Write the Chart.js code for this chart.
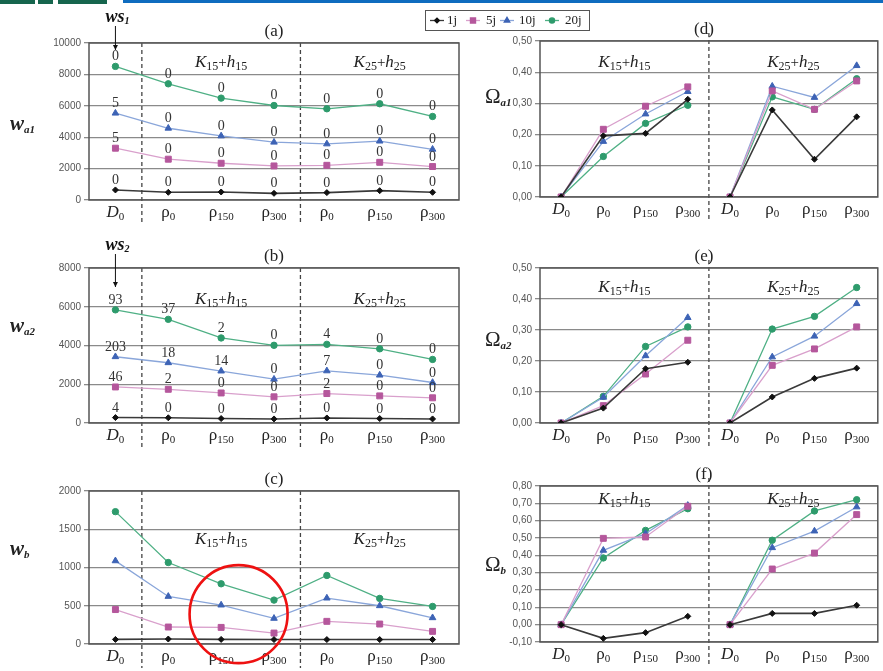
<!DOCTYPE html>
<html>
<head>
<meta charset="utf-8">
<script src="https://cdn.jsdelivr.net/npm/chart.js@4.4.0/dist/chart.umd.min.js"></script>
<style>
  body { margin: 0; background: #fff; width: 883px; height: 671px; overflow: hidden; position: relative; }
  canvas { position: absolute; }
  .bar { position: absolute; top: 0; }
</style>
</head>
<body>
<div class="bar" style="left:0;width:35px;height:4px;background:#16654d"></div>
<div class="bar" style="left:38px;width:15px;height:4px;background:#16654d"></div>
<div class="bar" style="left:58px;width:49px;height:4px;background:#16654d"></div>
<div class="bar" style="left:123px;width:760px;height:3px;background:#0f6cbf"></div>

<canvas id="chartA" width="470" height="230" style="left:0;top:0"></canvas>
<canvas id="chartB" width="470" height="228" style="left:0;top:225px"></canvas>
<canvas id="chartC" width="470" height="223" style="left:0;top:448px"></canvas>
<canvas id="chartD" width="423" height="227" style="left:460px;top:0"></canvas>
<canvas id="chartE" width="423" height="228" style="left:460px;top:225px"></canvas>
<canvas id="chartF" width="423" height="227" style="left:460px;top:443px"></canvas>
<canvas id="legend" width="180" height="32" style="left:420px;top:5px"></canvas>

<script>
// series and categories
const seriesNames = ['1j', '5j', '10j', '20j'];
const catLeft = ['D0', 'ρ0', 'ρ150', 'ρ300', 'ρ0', 'ρ150', 'ρ300'];
const catRight = ['D0', 'ρ0', 'ρ150', 'ρ300', 'D0', 'ρ0', 'ρ150', 'ρ300'];

// (a) w_a1
const wa1_1j = [640, 490, 510, 425, 470, 595, 490];
const wa1_5j = [3300, 2600, 2340, 2170, 2210, 2400, 2130];
const wa1_10j = [5530, 4570, 4080, 3680, 3570, 3750, 3230];
const wa1_20j = [8510, 7400, 6490, 6020, 5810, 6130, 5320];
const wa1_n1j = [0, 0, 0, 0, 0, 0, 0];
const wa1_n5j = [5, 0, 0, 0, 0, 0, 0];
const wa1_n10j = [5, 0, 0, 0, 0, 0, 0];
const wa1_n20j = [0, 0, 0, 0, 0, 0, 0];

// (b) w_a2
const wa2_1j = [280, 270, 230, 210, 260, 230, 210];
const wa2_5j = [1860, 1740, 1550, 1350, 1520, 1400, 1300];
const wa2_10j = [3420, 3110, 2680, 2260, 2690, 2470, 2090];
const wa2_20j = [5840, 5350, 4390, 4010, 4060, 3830, 3280];
const wa2_n1j = [4, 0, 0, 0, 0, 0, 0];
const wa2_n5j = [46, 2, 0, 0, 2, 0, 0];
const wa2_n10j = [203, 18, 14, 0, 7, 0, 0];
const wa2_n20j = [93, 37, 2, 0, 4, 0, 0];

// (c) w_b
const wb_1j = [60, 65, 60, 58, 58, 58, 58];
const wb_5j = [450, 222, 217, 143, 296, 261, 165];
const wb_10j = [1087, 622, 509, 335, 600, 500, 343];
const wb_20j = [1730, 1065, 787, 574, 896, 596, 491];

// (d) Omega_a1
const oa1_1j = [0, 0.196, 0.204, 0.313, 0, 0.279, 0.121, 0.257];
const oa1_5j = [0, 0.217, 0.291, 0.353, 0, 0.340, 0.281, 0.372];
const oa1_10j = [0, 0.178, 0.266, 0.338, 0, 0.355, 0.319, 0.421];
const oa1_20j = [0, 0.130, 0.236, 0.294, 0, 0.321, 0.281, 0.379];

// (e) Omega_a2
const oa2_1j = [0, 0.048, 0.175, 0.196, 0, 0.084, 0.144, 0.177];
const oa2_5j = [0, 0.056, 0.158, 0.267, 0, 0.186, 0.239, 0.310];
const oa2_10j = [0, 0.083, 0.217, 0.340, 0, 0.213, 0.280, 0.385];
const oa2_20j = [0, 0.086, 0.247, 0.310, 0, 0.303, 0.344, 0.437];

// (f) Omega_b
const ob_1j = [0, -0.079, -0.046, 0.048, 0, 0.065, 0.065, 0.112];
const ob_5j = [0, 0.498, 0.506, 0.683, 0, 0.321, 0.413, 0.635];
const ob_10j = [0, 0.429, 0.525, 0.688, 0, 0.444, 0.540, 0.679];
const ob_20j = [0, 0.385, 0.544, 0.669, 0, 0.487, 0.656, 0.721];

// styles
const pointColors = ['#111111', '#b5579c', '#3d63b5', '#2e9b6c'];
const lineColors = ['#3a3a3a', '#d9a0cc', '#8aa6da', '#4fb085'];
const pointStyles = ['rectRot', 'rect', 'triangle', 'circle'];
const pointSizes = [3, 4.2, 3.8, 3.2];

const SERIF = '"Liberation Serif", "DejaVu Serif", serif';
const SANS = '"Liberation Sans", Arial, sans-serif';

// draw text made of pieces (sub/italic)
function rich(ctx, parts, x, y, align) {
    let w = 0;
    parts.forEach(p => { ctx.font = p.f; p.w = ctx.measureText(p.t).width; w += p.w; });
    let cx = align === 'left' ? x : x - w / 2;
    ctx.textAlign = 'left';
    ctx.textBaseline = 'middle';
    parts.forEach(p => {
        ctx.font = p.f;
        ctx.fillText(p.t, cx, y + (p.dy || 0));
        cx += p.w;
    });
}

function kParts(n) {
    return [
        { t: 'K', f: 'italic 17px ' + SERIF },
        { t: n, f: '12px ' + SERIF, dy: 4 },
        { t: '+', f: '15px ' + SERIF },
        { t: 'h', f: 'italic 17px ' + SERIF },
        { t: n, f: '12px ' + SERIF, dy: 4 }
    ];
}

const decorPlugin = {
    id: 'decor',
    beforeDatasetsDraw(chart, args, o) {
        const ctx = chart.ctx;
        const a = chart.chartArea;
        const xs = chart.scales.x;
        ctx.save();
        // dashed separators
        ctx.strokeStyle = '#444';
        ctx.lineWidth = 1.3;
        ctx.setLineDash([4, 3]);
        o.splits.forEach(i => {
            const x = (xs.getPixelForValue(i) + xs.getPixelForValue(i + 1)) / 2;
            ctx.beginPath();
            ctx.moveTo(x, a.top - (o.dashTop || 0));
            ctx.lineTo(x, a.bottom + 24);
            ctx.stroke();
        });
        ctx.setLineDash([]);
        // frame
        ctx.strokeStyle = '#555';
        ctx.lineWidth = 1.5;
        ctx.strokeRect(a.left, a.top, a.right - a.left, a.bottom - a.top);
        ctx.restore();
    },
    afterDatasetsDraw(chart, args, o) {
        const ctx = chart.ctx;
        const a = chart.chartArea;
        const xs = chart.scales.x;
        const ys = chart.scales.y;
        ctx.save();
        ctx.fillStyle = '#222';
        // x tick labels
        chart.data.labels.forEach((lab, i) => {
            const base = lab.charAt(0);
            rich(ctx, [
                { t: base, f: (base === 'D' ? 'italic ' : '') + '17px ' + SERIF },
                { t: lab.slice(1), f: '11px ' + SERIF, dy: 4 }
            ], xs.getPixelForValue(i), a.bottom + 13);
        });
        // title
        ctx.font = '17px ' + SERIF;
        ctx.textAlign = 'center';
        ctx.textBaseline = 'middle';
        const midX = (a.left + a.right) / 2;
        ctx.fillText(o.title, midX + (o.titleDx || 0), a.top - 11);
        // group labels
        o.groups.forEach(g => {
            const x = (xs.getPixelForValue(g.from) + xs.getPixelForValue(g.to)) / 2;
            rich(ctx, kParts(g.n), x, a.top + o.kDy);
        });
        // y label
        rich(ctx, o.yLabel, o.yLabelX, a.top + o.yLabelDy, 'left');
        // point counts
        if (o.counts) {
            ctx.fillStyle = '#333';
            ctx.font = '14px ' + SERIF;
            ctx.textAlign = 'center';
            ctx.textBaseline = 'alphabetic';
            o.counts.forEach((arr, d) => {
                const meta = chart.getDatasetMeta(d);
                arr.forEach((v, i) => {
                    const p = meta.data[i];
                    ctx.fillText(String(v), p.x, p.y - 6);
                });
            });
        }
        // ws marker
        if (o.ws) {
            const x = xs.getPixelForValue(0);
            ctx.fillStyle = '#111';
            rich(ctx, [
                { t: 'ws', f: 'bold italic 18px ' + SERIF },
                { t: o.ws.n, f: 'bold italic 10px ' + SERIF, dy: 4 }
            ], x + 2, o.ws.ty);
            ctx.strokeStyle = '#111';
            ctx.lineWidth = 1;
            ctx.beginPath();
            ctx.moveTo(x, o.ws.ty + 9);
            ctx.lineTo(x, o.ws.tip);
            ctx.stroke();
            ctx.beginPath();
            ctx.moveTo(x - 2.5, o.ws.tip - 5);
            ctx.lineTo(x + 2.5, o.ws.tip - 5);
            ctx.lineTo(x, o.ws.tip);
            ctx.fill();
        }
        // highlight circle
        if (o.circle) {
            const c = o.circle;
            const x0 = xs.getPixelForValue(c.i);
            const x1 = xs.getPixelForValue(c.i + 1);
            ctx.strokeStyle = '#ee1111';
            ctx.lineWidth = 2.6;
            ctx.beginPath();
            ctx.arc(x0 + (x1 - x0) * c.frac, ys.getPixelForValue(c.val), c.r, 0, Math.PI * 2);
            ctx.stroke();
        }
        ctx.restore();
    }
};

function makeDatasets(values, rightSide) {
    return values.map((data, k) => ({
        label: seriesNames[k],
        data: data,
        borderColor: lineColors[k],
        backgroundColor: pointColors[k],
        pointBackgroundColor: pointColors[k],
        pointBorderColor: pointColors[k],
        pointStyle: pointStyles[k],
        pointRadius: pointSizes[k],
        pointBorderWidth: 1,
        borderWidth: k === 0 ? 1.6 : 1.3,
        tension: 0,
        segment: rightSide ? {
            borderColor: ctx => ctx.p0DataIndex === 3 ? 'rgba(0,0,0,0)' : undefined
        } : undefined
    }));
}

function makeChart(id, cfg) {
    const right = cfg.right;
    return new Chart(document.getElementById(id), {
        type: 'line',
        data: {
            labels: right ? catRight : catLeft,
            datasets: makeDatasets(cfg.values, right)
        },
        options: {
            responsive: false,
            animation: false,
            devicePixelRatio: 1,
            layout: { padding: { top: cfg.padTop, right: right ? 0 : 11, left: 0, bottom: 0 } },
            scales: {
                x: {
                    offset: true,
                    grid: { display: false },
                    border: { display: false },
                    ticks: { display: false },
                    afterFit: s => { s.height = cfg.xH; }
                },
                y: {
                    min: cfg.min,
                    max: cfg.max,
                    grid: { color: '#8a8a8a', lineWidth: 1.3, tickLength: 5 },
                    border: { display: false },
                    ticks: {
                        stepSize: cfg.step,
                        color: '#555',
                        padding: 3,
                        font: { family: SANS, size: 10 },
                        callback: v => right ? v.toFixed(2).replace('.', ',') : String(v)
                    },
                    afterFit: s => { s.width = right ? 80 : 89; }
                }
            },
            plugins: {
                legend: { display: false },
                tooltip: { enabled: false },
                decor: cfg.decor
            }
        },
        plugins: [decorPlugin]
    });
}

function wLabel(sub) {
    return [
        { t: 'w', f: 'bold italic 21px ' + SERIF },
        { t: sub, f: 'bold italic 11px ' + SERIF, dy: 5 }
    ];
}
function omegaLabel(sub) {
    return [
        { t: 'Ω', f: '21px ' + SERIF },
        { t: sub, f: 'bold italic 11px ' + SERIF, dy: 6 }
    ];
}

const leftGroups = [{ n: '15', from: 2, to: 2 }, { n: '25', from: 5, to: 5 }];
const rightGroups = [{ n: '15', from: 1, to: 2 }, { n: '25', from: 5, to: 6 }];

makeChart('chartA', {
    values: [wa1_1j, wa1_5j, wa1_10j, wa1_20j], min: 0, max: 10000, step: 2000, padTop: 43, xH: 30,
    decor: { splits: [0, 3], title: '(a)', groups: leftGroups, kDy: 20, yLabel: wLabel('a1'), yLabelX: 10, yLabelDy: 82,
        counts: [wa1_n1j, wa1_n5j, wa1_n10j, wa1_n20j], ws: { n: '1', ty: 17, tip: 50 } }
});
makeChart('chartB', {
    values: [wa2_1j, wa2_5j, wa2_10j, wa2_20j], min: 0, max: 8000, step: 2000, padTop: 43, xH: 30,
    decor: { splits: [0, 3], title: '(b)', groups: leftGroups, kDy: 32, yLabel: wLabel('a2'), yLabelX: 10, yLabelDy: 59,
        counts: [wa2_n1j, wa2_n5j, wa2_n10j, wa2_n20j], ws: { n: '2', ty: 20, tip: 62 } }
});
makeChart('chartC', {
    values: [wb_1j, wb_5j, wb_10j, wb_20j], min: 0, max: 2000, step: 500, padTop: 43, xH: 27,
    decor: { splits: [0, 3], title: '(c)', groups: leftGroups, kDy: 49, yLabel: wLabel('b'), yLabelX: 10, yLabelDy: 59,
        circle: { i: 2, frac: 0.33, val: 390, r: 49 } }
});
makeChart('chartD', {
    right: true, values: [oa1_1j, oa1_5j, oa1_10j, oa1_20j], min: 0, max: 0.5, step: 0.1, padTop: 41, xH: 30,
    decor: { splits: [3], dashTop: 8, title: '(d)', titleDx: -5, groups: rightGroups, kDy: 22, yLabel: omegaLabel('a1'), yLabelX: 25, yLabelDy: 56 }
});
makeChart('chartE', {
    right: true, values: [oa2_1j, oa2_5j, oa2_10j, oa2_20j], min: 0, max: 0.5, step: 0.1, padTop: 43, xH: 30,
    decor: { splits: [3], dashTop: 8, title: '(e)', titleDx: -5, groups: rightGroups, kDy: 20, yLabel: omegaLabel('a2'), yLabelX: 25, yLabelDy: 72 }
});
makeChart('chartF', {
    right: true, values: [ob_1j, ob_5j, ob_10j, ob_20j], min: -0.1, max: 0.8, step: 0.1, padTop: 43, xH: 28,
    decor: { splits: [3], dashTop: 8, title: '(f)', titleDx: -5, groups: rightGroups, kDy: 14, yLabel: omegaLabel('b'), yLabelX: 25, yLabelDy: 79 }
});

// legend box
function drawLegend() {
    const ctx = document.getElementById('legend').getContext('2d');
    const markX = [17, 53, 87, 132];
    const textX = [27, 66, 99, 145];
    ctx.strokeStyle = '#555';
    ctx.lineWidth = 1;
    ctx.strokeRect(5.5, 5.5, 164, 20);
    seriesNames.forEach((name, k) => {
        const y = 15.5;
        ctx.strokeStyle = lineColors[k];
        ctx.lineWidth = 1.3;
        ctx.beginPath();
        ctx.moveTo(markX[k] - 7, y);
        ctx.lineTo(markX[k] + 7, y);
        ctx.stroke();
        ctx.fillStyle = pointColors[k];
        ctx.strokeStyle = pointColors[k];
        Chart.helpers.drawPoint(ctx, {
            pointStyle: pointStyles[k], radius: pointSizes[k] - 0.6, borderWidth: 1, rotation: 0
        }, markX[k], y);
        ctx.fillStyle = '#222';
        ctx.font = '13px ' + SERIF;
        ctx.textBaseline = 'middle';
        ctx.fillText(name, textX[k], y);
    });
}
drawLegend();
</script>
</body>
</html>
